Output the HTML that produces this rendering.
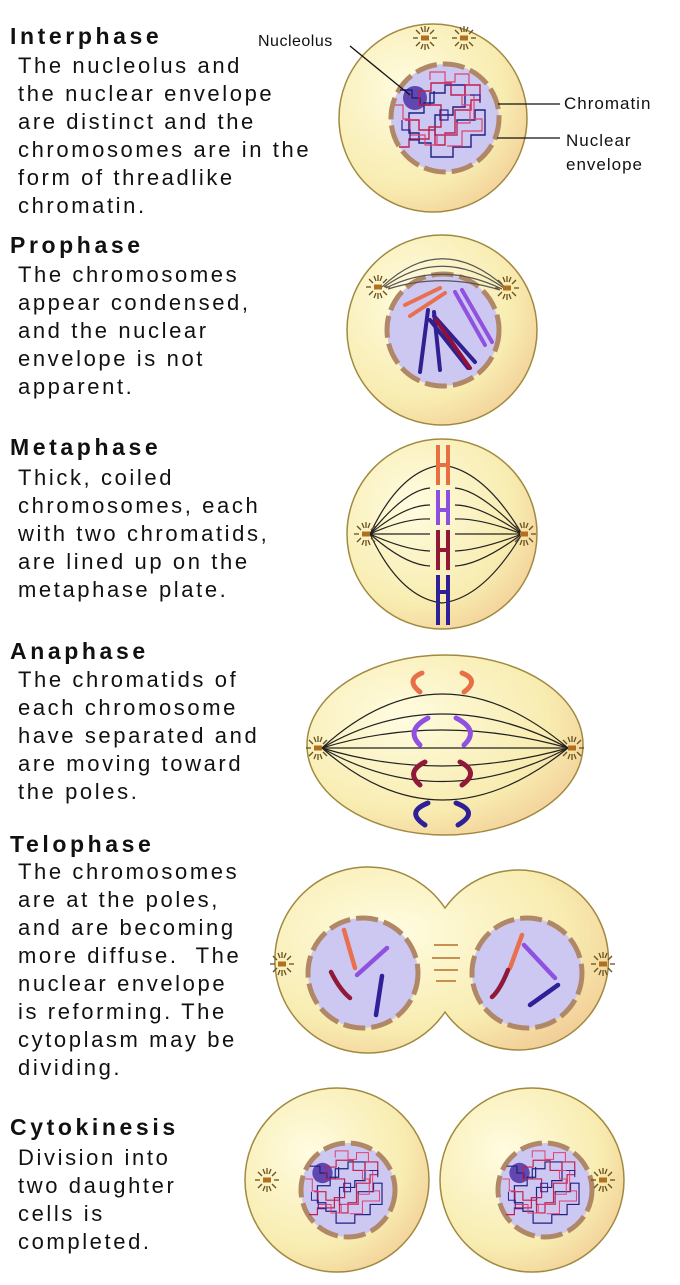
<!DOCTYPE html>
<html><head><meta charset="utf-8"><style>
body{margin:0;width:680px;height:1285px;background:#fff;position:relative;overflow:hidden;font-family:"Liberation Sans",sans-serif;color:#111}
.h{position:absolute;left:10px;font-weight:bold;font-size:23px;letter-spacing:3.6px;line-height:26px}
.t{position:absolute;left:18px;font-size:22px;letter-spacing:2.6px;line-height:28px;white-space:pre}
svg{position:absolute;left:0;top:0}
</style></head><body>
<svg width="680" height="1285" viewBox="0 0 680 1285">
<defs>
<radialGradient id="cy" cx="0.35" cy="0.35" r="0.75"><stop offset="0" stop-color="#fffce0"/><stop offset="0.7" stop-color="#f8ecb0"/><stop offset="1" stop-color="#f2cf98"/></radialGradient>
<g id="cs"><g stroke="#6a5020" stroke-width="1.3"><line x1="-12" y1="0" x2="-7" y2="0"/><line x1="12" y1="0" x2="7" y2="0"/><line x1="-9" y1="-8" x2="-5" y2="-4"/><line x1="9" y1="-8" x2="5" y2="-4"/><line x1="-9" y1="8" x2="-5" y2="4"/><line x1="9" y1="8" x2="5" y2="4"/><line x1="0" y1="-12" x2="0" y2="-6"/><line x1="0" y1="12" x2="0" y2="6"/><line x1="-4" y1="-11" x2="-2" y2="-6"/><line x1="4" y1="11" x2="2" y2="6"/><line x1="4" y1="-11" x2="2" y2="-6"/><line x1="-4" y1="11" x2="-2" y2="6"/></g><rect x="-4" y="-2.5" width="8" height="5" fill="#b07020"/></g>
<g id="chr" fill="none"><circle cx="415" cy="98" r="12" fill="#6048b0" stroke="none"/>
<path d="M400,90 h12 v8 h8 v7 h10 v-12 h15 v-8 h20 v22 h-12 v8 h-18 v20 h22 v-15 h18 v-10 h10 v25 h-14 v12 h-18 v10 h-22 v-14 h-12 v-10 h-10 v-20 h15 v-10 h10 v-12" stroke="#202080" stroke-width="1.4"/>
<path d="M405,120 h14 v10 h16 v15 h10 v-12 h10 v-23 h16 v-10 h9 v-15 h-15 v10 h-14 v-12 h-20 v8 h-12 v14 h22 v22 h-12 v12 h-20 v8 h-10" stroke="#c02050" stroke-width="1.4"/>
<path d="M395,105 h8 v14 h7 v16 h15 v10 h12 v-10 h20 v-12 h13 v-18 h-8 v-10 h12 v24 h8 v12 h-20 v15 h-15 M430,80 v-8 h15 v10 h10 v-8 h14 v12" stroke="#e04070" stroke-width="1.2"/>
<path d="M420,140 h-10 v-10 h-8 v-10 M470,95 h10 v8 M440,110 h8 v10 h-8 z" stroke="#302090" stroke-width="1.2"/></g>
</defs>
<g stroke="#a08a40" stroke-width="1.5" fill="url(#cy)">
<circle cx="433" cy="118" r="94"/>
<circle cx="442" cy="330" r="95"/>
<circle cx="442" cy="534" r="95"/>
<ellipse cx="445" cy="745" rx="138" ry="90"/>
<path d="M445,908 A93,93 0 1 0 445,1012 A90,90 0 1 0 445,908 Z"/>
<circle cx="337" cy="1180" r="92"/>
<circle cx="532" cy="1180" r="92"/>
</g>
<g fill="#cdc8f2" stroke="#b08868" stroke-width="5" stroke-dasharray="22,6">
<circle cx="445" cy="118" r="54"/>
<circle cx="443" cy="330" r="56"/>
<circle cx="363" cy="973" r="55"/>
<circle cx="527" cy="973" r="55"/>
<circle cx="348" cy="1190" r="47"/>
<circle cx="545" cy="1190" r="47"/>
</g>
<use href="#chr"/>
<use href="#cs" x="425" y="38"/><use href="#cs" x="464" y="38"/>
<g stroke="#111" stroke-width="1.3"><line x1="350" y1="46" x2="410" y2="95"/><line x1="498" y1="104" x2="560" y2="104"/><line x1="497" y1="138" x2="560" y2="138"/></g>
<!-- prophase -->
<g fill="none" stroke="#555" stroke-width="1.2">
<path d="M382,287 Q442,230 506,288"/><path d="M384,287 Q442,245 504,288"/><path d="M386,288 Q442,260 502,289"/><path d="M388,289 Q442,272 500,290"/>
</g>
<use href="#cs" x="378" y="287"/><use href="#cs" x="507" y="288"/>
<g fill="none" stroke-width="4" stroke-linecap="round">
<path d="M405,305 L440,288 M410,316 L445,293" stroke="#e87050"/>
<path d="M455,292 L485,345 M462,290 L492,342" stroke="#9050e0"/>
<path d="M428,310 L420,372 M434,312 L440,370 M430,320 L468,368 M434,316 L475,362" stroke="#302090"/>
<path d="M436,320 L470,368" stroke="#901038"/>
</g>
<!-- metaphase -->
<g fill="none" stroke="#222" stroke-width="1.2">
<path d="M370,534 Q400,470 442,465 Q484,470 522,534"/>
<path d="M370,534 Q405,490 430,488 M455,488 Q480,490 522,534"/>
<path d="M370,534 Q405,505 430,505 M455,505 Q480,505 522,534"/>
<path d="M370,534 Q405,518 430,519 M455,519 Q480,518 522,534"/>
<path d="M370,534 L430,534 M455,534 L522,534"/>
<path d="M370,534 Q405,550 430,551 M455,551 Q480,550 522,534"/>
<path d="M370,534 Q405,565 430,566 M455,566 Q480,565 522,534"/>
<path d="M370,534 Q400,598 442,603 Q484,598 522,534"/>
</g>
<use href="#cs" x="366" y="534"/><use href="#cs" x="524" y="534"/>
<g stroke-width="4" fill="none">
<path d="M438,445 L438,485 M448,445 L448,485 M438,465 h10" stroke="#e87040"/>
<path d="M438,490 L438,525 M448,490 L448,525 M438,510 h10" stroke="#8c50e0"/>
<path d="M438,530 L438,570 M448,530 L448,570 M438,550 h10" stroke="#901838"/>
<path d="M438,575 L438,625 M448,575 L448,625 M438,592 h10" stroke="#302098"/>
</g>
<!-- anaphase -->
<g fill="none" stroke="#222" stroke-width="1.2">
<path d="M322,748 Q440,640 568,748"/><path d="M322,748 Q440,680 568,748"/><path d="M322,748 Q440,712 568,748"/>
<path d="M322,748 L568,748"/><path d="M322,748 Q440,784 568,748"/><path d="M322,748 Q440,815 568,748"/><path d="M322,748 Q440,852 568,748"/>
</g>
<use href="#cs" x="318" y="748"/><use href="#cs" x="572" y="748"/>
<g fill="none" stroke-width="5" stroke-linecap="round">
<path d="M422,673 Q405,680 420,692 M462,673 Q480,680 464,692" stroke="#e87048"/>
<path d="M428,718 Q405,730 420,745 M456,718 Q480,730 464,745" stroke="#9050e0"/>
<path d="M425,762 Q405,772 420,785 M460,762 Q480,772 462,785" stroke="#901838"/>
<path d="M428,803 Q405,812 425,825 M456,803 Q480,812 458,825" stroke="#302098"/>
</g>
<!-- telophase -->
<use href="#cs" x="282" y="964"/><use href="#cs" x="603" y="964"/>
<g stroke="#c89050" stroke-width="2"><line x1="434" y1="945" x2="458" y2="945"/><line x1="432" y1="958" x2="460" y2="958"/><line x1="434" y1="970" x2="458" y2="970"/><line x1="436" y1="981" x2="456" y2="981"/></g>
<g fill="none" stroke-width="4.5" stroke-linecap="round">
<path d="M344,930 L355,968" stroke="#e87050"/><path d="M357,975 L387,948" stroke="#9050e0"/>
<path d="M331,972 Q340,990 350,998" stroke="#901838"/><path d="M382,976 L376,1015" stroke="#302098"/>
<path d="M522,935 L510,968" stroke="#e87050"/><path d="M524,945 L555,978" stroke="#9050e0"/>
<path d="M508,970 Q500,990 492,997" stroke="#901838"/><path d="M558,985 L530,1005" stroke="#302098"/>
</g>
<!-- cytokinesis -->
<use href="#cs" x="267" y="1180"/><use href="#cs" x="603" y="1180"/>
<use href="#chr" transform="translate(348,1190) scale(0.85) translate(-445,-118)"/>
<use href="#chr" transform="translate(545,1190) scale(0.85) translate(-445,-118)"/>
</svg>
<div style="position:absolute;left:258px;top:33px;font-size:16px;letter-spacing:0.5px">Nucleolus</div>
<div style="position:absolute;left:564px;top:94px;font-size:17px;letter-spacing:1px">Chromatin</div>
<div style="position:absolute;left:566px;top:129px;font-size:17px;letter-spacing:1px;line-height:24px">Nuclear<br>envelope</div>
<div class="h" style="top:23px">Interphase</div>
<div class="t" style="top:52px">The nucleolus and
the nuclear envelope
are distinct and the
chromosomes are in the
form of threadlike
chromatin.</div>
<div class="h" style="top:232px">Prophase</div>
<div class="t" style="top:261px">The chromosomes
appear condensed,
and the nuclear
envelope is not
apparent.</div>
<div class="h" style="top:434px">Metaphase</div>
<div class="t" style="top:464px">Thick, coiled
chromosomes, each
with two chromatids,
are lined up on the
metaphase plate.</div>
<div class="h" style="top:638px">Anaphase</div>
<div class="t" style="top:666px">The chromatids of
each chromosome
have separated and
are moving toward
the poles.</div>
<div class="h" style="top:831px">Telophase</div>
<div class="t" style="top:858px">The chromosomes
are at the poles,
and are becoming
more diffuse.  The
nuclear envelope
is reforming. The
cytoplasm may be
dividing.</div>
<div class="h" style="top:1114px">Cytokinesis</div>
<div class="t" style="top:1144px">Division into
two daughter
cells is
completed.</div>
</body></html>
